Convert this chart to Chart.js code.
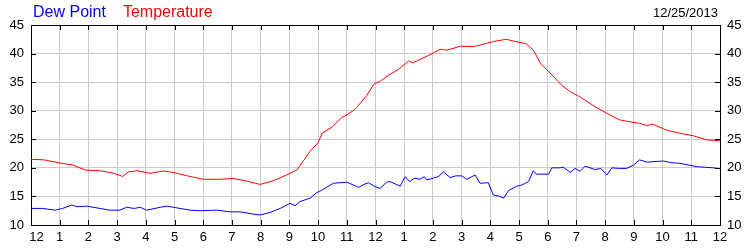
<!DOCTYPE html>
<html lang="en">
<head>
    <meta charset="UTF-8">
    <title>Dew Point / Temperature</title>
    <script src="https://cdn.jsdelivr.net/npm/chart.js"></script>
    <style>
        body { margin: 0; background: #fff; }
        .chart-container { width: 750px; height: 250px; }
    </style>
</head>
<body>
    <div class="chart-container">
        <canvas id="weatherChart"></canvas>
    </div>

    <script>
        // Datos (hora del día, valor en °C)
        const tempHours = [0, 0.45, 0.95, 1.45, 1.9, 2.4, 2.85, 3.2, 3.4, 3.7, 4.15, 4.6, 4.95, 5.45, 6.0, 6.55, 7.05, 7.5, 7.98, 8.45, 8.9, 9.25, 9.5, 9.72, 10.0, 10.15, 10.5, 10.82, 11.0, 11.3, 11.7, 11.95, 12.15, 12.45, 12.85, 13.15, 13.3, 13.65, 14.0, 14.25, 14.48, 14.7, 14.95, 15.4, 15.65, 16.1, 16.55, 16.9, 17.25, 17.5, 17.75, 18.08, 18.5, 18.8, 19.13, 19.65, 20.06, 20.5, 20.93, 21.2, 21.45, 21.65, 22.14, 22.6, 23.08, 23.54, 24];
        const tempValues = [21.5, 21.4, 20.9, 20.5, 19.6, 19.5, 19.1, 18.5, 19.3, 19.5, 19.05, 19.45, 19.2, 18.6, 18.0, 18.0, 18.15, 17.7, 17.1, 17.75, 18.75, 19.6, 21.3, 22.9, 24.4, 26.1, 27.2, 28.8, 29.25, 30.3, 32.7, 34.7, 35.1, 36.2, 37.4, 38.7, 38.4, 39.2, 40.05, 40.75, 40.6, 40.9, 41.3, 41.2, 41.5, 42.1, 42.5, 42.1, 41.7, 40.6, 38.3, 36.6, 34.4, 33.3, 32.4, 30.7, 29.55, 28.4, 28.0, 27.8, 27.4, 27.65, 26.6, 26.05, 25.6, 24.9, 24.75];

        const dewHours = [0, 0.4, 0.84, 1.1, 1.42, 1.6, 1.94, 2.4, 2.75, 3.1, 3.33, 3.6, 3.8, 4.03, 4.5, 4.73, 4.96, 5.54, 5.89, 6.47, 6.93, 7.28, 7.63, 7.98, 8.33, 8.68, 9.02, 9.2, 9.37, 9.72, 9.95, 10.13, 10.53, 11.0, 11.41, 11.6, 11.76, 11.95, 12.16, 12.39, 12.51, 12.86, 13.03, 13.2, 13.35, 13.55, 13.7, 13.79, 14.02, 14.2, 14.37, 14.6, 14.8, 15.0, 15.18, 15.47, 15.64, 15.93, 16.1, 16.28, 16.46, 16.63, 16.92, 17.1, 17.33, 17.5, 17.6, 18.03, 18.14, 18.4, 18.55, 18.78, 18.95, 19.13, 19.3, 19.65, 19.85, 20.06, 20.23, 20.5, 20.75, 20.99, 21.2, 21.45, 21.7, 22.03, 22.3, 22.6, 22.9, 23.2, 23.5, 23.77, 24];
        const dewValues = [12.9, 12.9, 12.6, 12.9, 13.5, 13.2, 13.3, 12.9, 12.6, 12.6, 13.1, 12.9, 13.1, 12.6, 13.1, 13.3, 13.1, 12.6, 12.5, 12.6, 12.3, 12.3, 12.0, 11.75, 12.2, 12.9, 13.8, 13.4, 14.1, 14.7, 15.65, 16.1, 17.3, 17.5, 16.6, 17.1, 17.4, 16.8, 16.4, 17.5, 17.6, 16.8, 18.45, 17.6, 18.2, 18.0, 18.45, 17.9, 18.2, 18.5, 19.3, 18.3, 18.6, 18.6, 18.0, 18.75, 17.3, 17.4, 15.25, 15.1, 14.7, 16.0, 16.8, 17.0, 17.6, 19.5, 18.9, 18.9, 20.0, 20.0, 20.1, 19.2, 19.9, 19.4, 20.3, 19.7, 19.9, 18.75, 20.0, 19.9, 19.9, 20.5, 21.4, 21.0, 21.1, 21.2, 20.9, 20.8, 20.5, 20.2, 20.1, 20.0, 19.85];

        const hourLabels = ['12', '1', '2', '3', '4', '5', '6', '7', '8', '9', '10', '11', '12', '1', '2', '3', '4', '5', '6', '7', '8', '9', '10', '11', '12'];
        const seriesNames = ['Dew Point', 'Temperature'];
        const seriesColors = ['#0000ff', '#ff0000'];
        const dateText = '12/25/2013';

        const FONT = '"Liberation Sans", Arial, sans-serif';

        function toPoints(xs, ys) {
            return xs.map((x, i) => ({ x: x, y: ys[i] }));
        }

        // Cabecera: nombres de series en color y fecha a la derecha
        const headerPlugin = {
            id: 'header',
            afterDraw(chart) {
                const ctx = chart.ctx;
                ctx.save();
                ctx.textBaseline = 'alphabetic';
                ctx.font = '16px ' + FONT;
                let x = 33;
                seriesNames.forEach((name, i) => {
                    ctx.fillStyle = seriesColors[i];
                    ctx.textAlign = 'left';
                    ctx.fillText(name, x, 17);
                    x += ctx.measureText(name).width + 17;
                });
                ctx.font = '13px ' + FONT;
                ctx.fillStyle = '#000';
                ctx.textAlign = 'right';
                ctx.fillText(dateText, 718, 17);
                ctx.restore();
            }
        };

        // Marcas cortas hacia dentro en los cuatro bordes
        const innerTicksPlugin = {
            id: 'innerTicks',
            afterDatasetsDraw(chart) {
                const ctx = chart.ctx;
                const a = chart.chartArea;
                const xs = chart.scales.x, ys = chart.scales.y;
                ctx.save();
                ctx.strokeStyle = '#000';
                ctx.lineWidth = 1;
                ctx.beginPath();
                xs.ticks.forEach(t => {
                    const px = Math.round(xs.getPixelForValue(t.value)) + 0.5;
                    ctx.moveTo(px, a.top); ctx.lineTo(px, a.top + 5);
                    ctx.moveTo(px, a.bottom); ctx.lineTo(px, a.bottom - 5);
                });
                ys.ticks.forEach(t => {
                    const py = Math.round(ys.getPixelForValue(t.value)) + 0.5;
                    ctx.moveTo(a.left, py); ctx.lineTo(a.left + 5, py);
                    ctx.moveTo(a.right, py); ctx.lineTo(a.right - 5, py);
                });
                ctx.stroke();
                ctx.restore();
            }
        };

        const ctx = document.getElementById('weatherChart').getContext('2d');
        const chart = new Chart(ctx, {
            type: 'line',
            data: {
                datasets: [
                    { label: seriesNames[0], data: toPoints(dewHours, dewValues), borderColor: seriesColors[0], borderWidth: 1, pointRadius: 0, tension: 0, fill: false },
                    { label: seriesNames[1], data: toPoints(tempHours, tempValues), borderColor: seriesColors[1], borderWidth: 1, pointRadius: 0, tension: 0, fill: false }
                ]
            },
            options: {
                responsive: true,
                maintainAspectRatio: false,
                animation: { duration: 0 },
                layout: { padding: 0 },
                plugins: {
                    legend: { display: false },
                    tooltip: { enabled: false }
                },
                scales: {
                    x: {
                        type: 'linear',
                        position: 'bottom',
                        min: 0, max: 24,
                        afterFit: s => { s.height = 25; },
                        ticks: {
                            stepSize: 1,
                            autoSkip: false,
                            maxRotation: 0,
                            padding: 5,
                            color: '#000',
                            font: { family: FONT, size: 13 },
                            callback: (v) => v === 0 ? '\u00a0\u00a0\u00a0' + hourLabels[v] : hourLabels[v]
                        },
                        grid: { color: '#cccccc', drawTicks: false },
                        border: { display: true, color: '#000' }
                    },
                    x2: {
                        type: 'linear',
                        position: 'top',
                        min: 0, max: 24,
                        afterFit: s => { s.height = 25; },
                        ticks: { display: false },
                        grid: { display: false, drawTicks: false },
                        border: { display: true, color: '#000' }
                    },
                    y: {
                        position: 'left',
                        min: 10, max: 45,
                        afterFit: s => { s.width = 31; },
                        ticks: {
                            stepSize: 5,
                            padding: 7,
                            color: '#000',
                            font: { family: FONT, size: 13 }
                        },
                        grid: { color: '#cccccc', drawTicks: false },
                        border: { display: true, color: '#000' }
                    },
                    y2: {
                        position: 'right',
                        min: 10, max: 45,
                        afterFit: s => { s.width = 30; },
                        ticks: {
                            stepSize: 5,
                            padding: 7,
                            color: '#000',
                            font: { family: FONT, size: 13 }
                        },
                        grid: { display: false, drawTicks: false },
                        border: { display: true, color: '#000' }
                    }
                }
            },
            plugins: [headerPlugin, innerTicksPlugin]
        });
    </script>
</body>
</html>
